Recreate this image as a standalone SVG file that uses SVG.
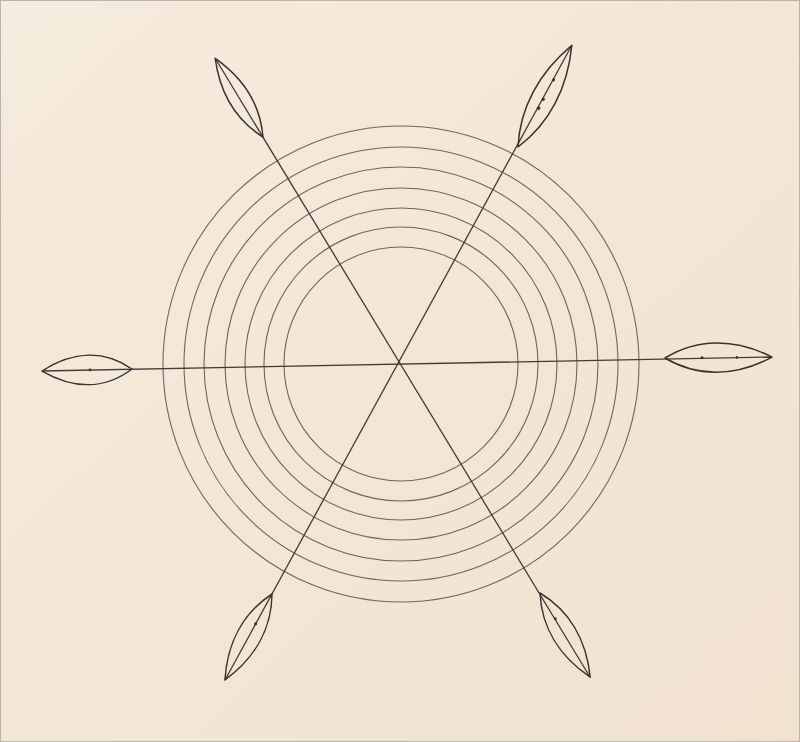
<svg xmlns="http://www.w3.org/2000/svg" width="800" height="742" viewBox="0 0 800 742">
<defs>
<linearGradient id="paper" x1="0" y1="0" x2="1" y2="1">
<stop offset="0" stop-color="#f5ebde"/>
<stop offset="0.5" stop-color="#f3e6d5"/>
<stop offset="1" stop-color="#f0e2cf"/>
</linearGradient>
<style>
.ring{fill:none;stroke:#6e6560;stroke-width:1.1}
.spoke{fill:none;stroke:#433b38;stroke-width:1.3}
.leaf{fill:none;stroke:#3a3230;stroke-width:1.5;stroke-linejoin:round}
.dot{fill:#3a3230}
</style>
</defs>
<rect x="0" y="0" width="800" height="742" fill="url(#paper)"/>
<rect x="0.5" y="0.5" width="799" height="741" fill="none" stroke="#b9b3ad" stroke-width="1"/>
<g id="rings">
<circle class="ring" cx="401" cy="364" r="238"/>
<circle class="ring" cx="401" cy="364" r="217"/>
<circle class="ring" cx="401" cy="364" r="197"/>
<circle class="ring" cx="401" cy="364" r="176"/>
<circle class="ring" cx="401" cy="364" r="156"/>
<circle class="ring" cx="401" cy="364" r="137"/>
<circle class="ring" cx="401" cy="364" r="117"/>
</g>
<g id="spokes">
<line class="spoke" x1="42" y1="371" x2="772" y2="357"/>
<line class="spoke" x1="215" y1="58" x2="590" y2="677"/>
<line class="spoke" x1="572" y1="45" x2="225" y2="680"/>
</g>
<g id="leaf-left" transform="translate(132,369) rotate(178.7)">
<path class="leaf" d="M0,0 C27,-19.5 58,-19.5 90,0 C58,19.5 27,19.5 0,0 Z"/>
<circle class="dot" cx="42" cy="0" r="1.4"/>
</g>
<g id="leaf-right" transform="translate(665,358) rotate(-0.5)">
<path class="leaf" d="M0,0 C32,-19.5 70,-19.5 107,0 C70,19.5 32,19.5 0,0 Z"/>
<circle class="dot" cx="37" cy="0" r="1.5"/>
<circle class="dot" cx="72" cy="0" r="1.3"/>
</g>
<g id="leaf-topleft" transform="translate(263,137) rotate(-121.3)">
<path class="leaf" d="M0,0 C28,-14 60,-14 92,0 C60,14 28,14 0,0 Z"/>
</g>
<g id="leaf-topright" transform="translate(518,147) rotate(-62.1)">
<path class="leaf" d="M0,0 C35,-16.5 75,-16.5 115,0 C75,16.5 35,16.5 0,0 Z"/>
<circle class="dot" cx="44" cy="0" r="1.8"/>
<circle class="dot" cx="54" cy="0" r="1.6"/>
<circle class="dot" cx="76" cy="0" r="1.5"/>
</g>
<g id="leaf-bottomleft" transform="translate(272,594) rotate(118.7)">
<path class="leaf" d="M0,0 C30,-16 64,-16 98,0 C64,16 30,16 0,0 Z"/>
<circle class="dot" cx="34" cy="0" r="1.5"/>
</g>
<g id="leaf-bottomright" transform="translate(540,593) rotate(59.2)">
<path class="leaf" d="M0,0 C30,-16 64,-16 98,0 C64,16 30,16 0,0 Z"/>
<circle class="dot" cx="30" cy="0" r="1.4"/>
</g>
</svg>
